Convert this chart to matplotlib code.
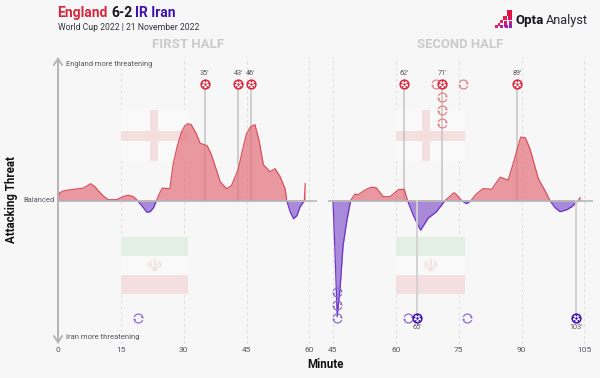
import numpy as np
import matplotlib
matplotlib.use("Agg")
import matplotlib.pyplot as plt
from matplotlib.path import Path
from matplotlib.patches import Rectangle

W, H = 600, 378
BG = "#f7f7f7"
RED = "#d7263d"
PURPLE = "#3f0fb0"
GREY = "#555560"

# Threat curve, first half (height above the balanced line)
min_1 = [0, 0.4, 1.5, 3, 6, 7, 7.8, 8.8, 9.6, 11, 12, 14, 15.5, 16.8, 18, 19, 20, 21.2, 22, 22.8, 23.5, 24.2,
         24.9, 26.7, 27.5, 28.5, 29.5, 30.3, 31, 31.8, 33, 33.9, 35.6, 36.6, 37.7, 38.7, 40.2, 41.4, 43, 44, 45,
         46, 47, 48, 49, 50.6, 51.8, 53, 54.2, 54.6, 55.4, 56.2, 57, 57.8, 58.8, 59]
threat_1 = [0, 8, 10, 11, 12.5, 15, 17, 14, 10, 4, 1, 1, 4, 5.5, 4, 0, -5, -11.5, -11, -7, 0, 7,
            12.5, 12, 37, 55, 69, 75, 77, 76, 67, 57.5, 55, 46, 32, 19, 12, 15, 31, 50, 67,
            74, 76, 60, 36, 29, 32, 24, 12, 0, -11, -18, -15, -6, 0, 17]

# Threat curve, second half
min_2 = [45, 45.5, 46, 46.7, 47.4, 48.3, 49.2, 50.2, 51, 53, 54.2, 55.3, 57, 58.6, 60.6, 62, 62.8, 64.2, 65.9,
         67.7, 69.7, 71.7, 73.9, 74.5, 75.7, 76.9, 77.9, 79.3, 80.8, 82.9, 84.9, 86.8, 88, 89, 89.8, 90.9, 92,
         94, 95.6, 96.8, 98, 99.2, 100.8, 102, 103.5, 104]
threat_2 = [0, -54, -116, -87, -45, -20, 0, 6.5, 6, 11.5, 13.5, 13, 4, 4, 11, 11.5, 0, -15, -29.5,
            -17.5, -11, 0, 8, 6, 0, -3, 0, 7, 12, 11.5, 23.5, 20.5, 37, 52, 63.5, 63, 52,
            22, 10, 0, -7, -11, -9, -6, 0, 3]

ticks_1 = [0, 15, 30, 45, 60]
ticks_2 = [45, 60, 75, 90, 105]

# Goals and substitutions (minute, height)
eng_goals_1 = [35, 43, 46]
eng_goals_2 = [62, 71, 89]
irn_goals_2 = [65, 103]
eng_goal_height = 116.7
irn_goal_height = -117.3
irn_subs_1 = [(19, -117.3)]
irn_subs_2 = [(46, -117.3), (46, -104.3), (46, -91.3), (62.8, -117.3), (77, -117.3)]
eng_subs_2 = [(69.6, 116.7), (71, 103.7), (71, 90.7), (71, 77.7), (76, 116.7)]

fig = plt.figure(figsize=(6, 3.78), dpi=100, facecolor=BG)
plt.rcParams["font.family"] = ["Roboto", "DejaVu Sans"]


def fx(px):
    return px / W


def fy(py):
    return 1 - py / H


def make_axes(left, right, xmin, xmax):
    ax = fig.add_axes([fx(left), fy(344), (right - left) / W, 287 / H])
    ax.set_xlim(xmin, xmax)
    ax.set_ylim(-143.3, 143.7)
    ax.patch.set_alpha(0)
    for s in ax.spines.values():
        s.set_visible(False)
    ax.set_yticks([])
    ax.tick_params(axis="x", length=0, pad=2.5, labelsize=6, labelcolor=GREY)
    ax.grid(axis="x", color="#dddddd", lw=0.7, ls=(0, (3, 3)), zorder=0)
    ax.set_axisbelow(True)
    return ax


# Flags behind the curve, x given in minutes, y in threat units
def england_flag(ax, x0, x1, xc, w):
    ax.add_patch(Rectangle((x0, 40), x1 - x0, 51, color="#f9f9f9", zorder=1, lw=0))
    ax.add_patch(Rectangle((x0, 60), x1 - x0, 10, color="#f3dfe0", zorder=1, lw=0))
    ax.add_patch(Rectangle((xc - w / 2, 40), w, 51, color="#f3dfe0", zorder=1, lw=0))


def iran_flag(ax, x0, x1):
    ax.add_patch(Rectangle((x0, -55), x1 - x0, 18.4, color="#e3efe4", zorder=1, lw=0))
    ax.add_patch(Rectangle((x0, -74.6), x1 - x0, 19.6, color="#f9f9f9", zorder=1, lw=0))
    ax.add_patch(Rectangle((x0, -93.3), x1 - x0, 18.7, color="#f4dfe0", zorder=1, lw=0))
    ax.text((x0 + x1) / 2, -64.5, "☫", color="#f1d9d9", fontsize=12.5, ha="center", va="center",
            family="DejaVu Sans", zorder=1)


def draw_curve(ax, minutes, values):
    m = np.array(minutes, dtype=float)
    v = np.array(values, dtype=float)
    ax.fill_between(m, 0, np.maximum(v, 0), color="#e4737e", alpha=0.72, lw=0, zorder=3)
    ax.fill_between(m, 0, np.minimum(v, 0), color="#8a5fd0", alpha=0.72, lw=0, zorder=3)
    ax.plot(m, np.maximum(v, 0), color="#d9505f", lw=0.9, zorder=4)
    ax.plot(m, np.minimum(v, 0), color="#6a35c4", lw=0.9, zorder=4)
    ax.axhline(0, color="#bdbdbd", lw=1.3, zorder=5)


# Ball and substitution icons as markers
angles = np.deg2rad([90, 162, 234, 306, 18])
ball_dots = Path.make_compound_path(
    *[Path.circle((np.cos(a), np.sin(a)), 0.3) for a in angles],
    Path.circle((0, 0), 0.42),
)
arc_a = Path.arc(20, 160)
arc_b = Path.arc(200, 340)
sub_icon = Path.make_compound_path(
    arc_a, arc_b,
    Path([(0.94, 0.34), (1.0, 0.0)]), Path([(0.94, 0.34), (0.6, 0.25)]),
    Path([(-0.94, -0.34), (-1.0, 0.0)]), Path([(-0.94, -0.34), (-0.6, -0.25)]),
)


def draw_goals(ax, goals, height, color, above):
    for g in goals:
        if above:
            ax.plot([g, g], [0, height], color="#c4c4c4", lw=1.1, zorder=2)
        else:
            ax.plot([g, g], [0, height], color="#d0d0d0", lw=1.3, zorder=6)
        ax.plot(g, height, "o", ms=7.4, mfc=color, mec="none", zorder=7)
        ax.plot(g, height, "o", ms=5.2, mfc="white", mec="none", zorder=8)
        ax.plot(g, height, marker=ball_dots, ms=5.6, mfc=color, mec="none", zorder=9)
        ax.annotate(f"{g}'", (g, height), xytext=(0, 7.2 if above else -7.2), textcoords="offset points",
                    ha="center", va="center", fontsize=5.2, color=GREY, zorder=9)


def draw_subs(ax, subs, color):
    for m, h in subs:
        ax.plot(m, h, marker=sub_icon, ms=6.4, mfc="none", mec=color, mew=0.9, zorder=6)


PX_PER_MIN = 4.19
ax1 = make_axes(58, 317, 0, (317 - 58) / PX_PER_MIN)
ax2 = make_axes(328, 593, 45 - 5 / PX_PER_MIN, 45 + (593 - 333) / PX_PER_MIN)
ax1.set_xticks(ticks_1)
ax2.set_xticks(ticks_2)

england_flag(ax1, 15, 31, 23, 1.9)
iran_flag(ax1, 15, 31)
england_flag(ax2, 60, 76.4, 67.2, 1.9)
iran_flag(ax2, 60, 76.4)

draw_goals(ax1, eng_goals_1, eng_goal_height, RED, True)
draw_goals(ax2, eng_goals_2, eng_goal_height, RED, True)
draw_goals(ax2, irn_goals_2, irn_goal_height, PURPLE, False)
draw_curve(ax1, min_1, threat_1)
draw_curve(ax2, min_2, threat_2)
draw_subs(ax1, irn_subs_1, "#8f6bd8")
draw_subs(ax2, irn_subs_2, "#8f6bd8")
draw_subs(ax2, eng_subs_2, "#e58089")

# Y arrow
ax1.annotate("", xy=(0, 143.7), xytext=(0, -143.3), annotation_clip=False, zorder=6,
             arrowprops=dict(arrowstyle="<->,head_length=0.45,head_width=0.3", color="#b5b5b5", lw=1.4,
                             shrinkA=0, shrinkB=0))

# Text
box = dict(facecolor=BG, edgecolor="none", pad=0.8)
fig.text(fx(66.5), fy(64), "England more threatening", fontsize=5.4, color=GREY, va="center", bbox=box, zorder=10)
fig.text(fx(66.5), fy(337.5), "Iran more threatening", fontsize=5.5, color=GREY, va="center", bbox=box, zorder=10)
fig.text(fx(54), fy(201), "Balanced", fontsize=5.4, color=GREY, va="center", ha="right")
fig.text(fx(188), fy(44.5), "FIRST HALF", fontsize=9.5, color="#cbcbcb", weight="bold", ha="center", va="center")
fig.text(fx(460.5), fy(44.5), "SECOND HALF", fontsize=9.4, color="#cbcbcb", weight="bold", ha="center", va="center")
fig.text(fx(11.5), fy(200), "Attacking Threat", fontsize=8.3, weight="bold", color="#111111", rotation=90,
         ha="center", va="center")
fig.text(fx(325), fy(365), "Minute", fontsize=8.3, weight="bold", color="#111111", ha="center", va="center")

fig.text(fx(57.5), fy(17), "England", fontsize=10, weight="bold", color=RED, va="baseline")
fig.text(fx(111), fy(17), "6-2", fontsize=10, weight="bold", color="#15151f", va="baseline")
fig.text(fx(135), fy(17), "IR Iran", fontsize=10, weight="bold", color=PURPLE, va="baseline")
fig.text(fx(58), fy(30), "World Cup 2022 | 21 November 2022", fontsize=6.2, color="#33333d", va="baseline")

# Opta Analyst logo
logo_squares = [
    (507, 10.5, 5, "#e0103f"), (503, 15.5, 4, "#e8174f"), (507.5, 16, 4, "#d9155f"),
    (500, 19.5, 3, "#e8204f"), (504, 20.5, 3, "#d91a70"), (508.5, 20.5, 3, "#c81a8a"),
    (497.5, 23, 2.5, "#e81c50"), (504, 24, 2.5, "#c81c90"), (508.5, 24, 3, "#b01ca8"),
    (495, 25.5, 2.5, "#e0206a"), (500, 25.5, 2.5, "#b020b0"), (505, 25.5, 2.5, "#a01cc0"),
    (509, 25.5, 2.5, "#8b1fd0"),
]
for x, y, s, c in logo_squares:
    fig.add_artist(Rectangle((fx(x), fy(y + s)), s / W, s / H, transform=fig.transFigure, color=c, lw=0))
fig.text(fx(516), fy(24), "Opta", fontsize=9.5, weight="bold", color="#15151f", va="baseline")
fig.text(fx(546), fy(24), "Analyst", fontsize=9.2, color="#25252f", va="baseline")

fig.savefig("out.png", dpi=100, facecolor=BG)
